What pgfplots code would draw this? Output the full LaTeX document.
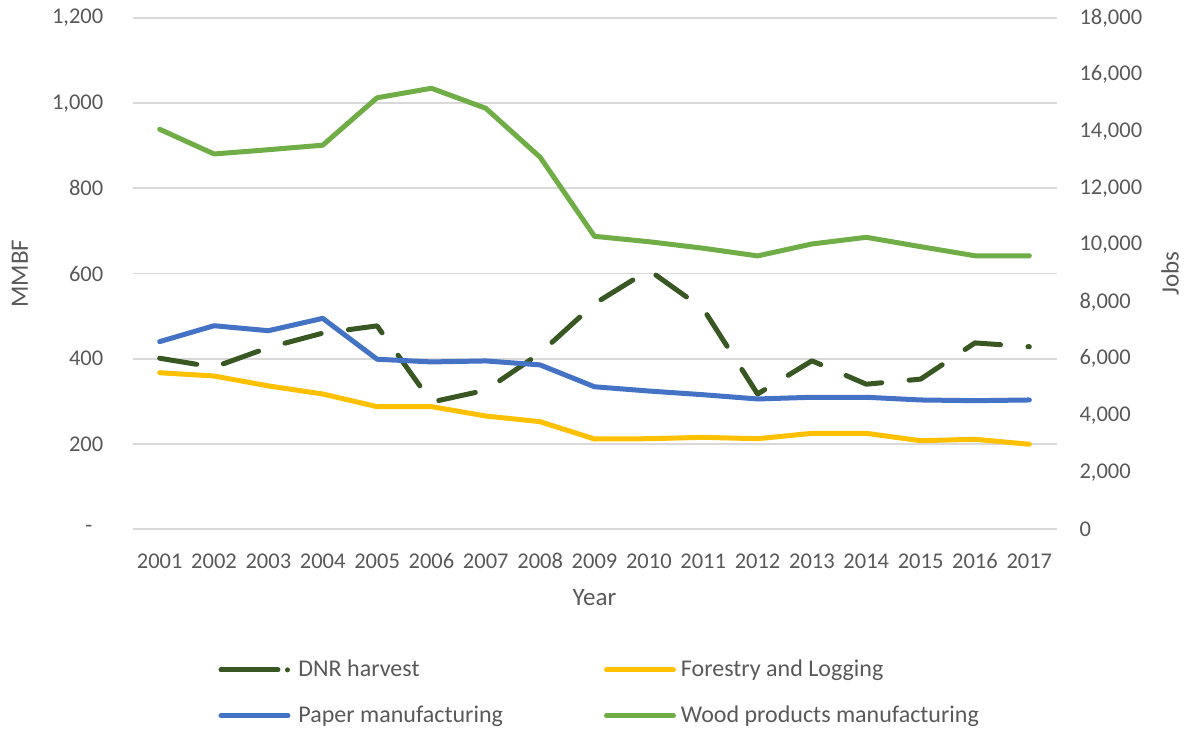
\documentclass[border=0pt]{standalone}
\usepackage{fontspec}
\setmainfont{Carlito}
\usepackage{pgfplots}
\pgfplotsset{compat=1.18}

\definecolor{txt}{HTML}{595959}
\definecolor{gridc}{HTML}{D9D9D9}
\definecolor{dnr}{HTML}{385723}
\definecolor{forest}{HTML}{FFC000}
\definecolor{paper}{HTML}{4472C4}
\definecolor{wood}{HTML}{70AD47}

\newcommand\tickfont{\fontsize{9bp}{11bp}\selectfont}
\newcommand\labfont{\fontsize{10bp}{12bp}\selectfont}
\newcommand\legfont{\fontsize{9.6bp}{11.5bp}\selectfont}

\pgfplotsset{
  common/.style={
    at={(53bp,80.4bp)}, anchor=south west,
    scale only axis, width=369.6bp, height=204.4bp,
    xmin=0.5, xmax=17.5,
    major tick length=0pt,
    scaled y ticks=false,
    axis line style={draw=none},
    tick label style={font=\tickfont, text=txt},
  },
  serie/.style={line width=2bp, line join=round, line cap=round, #1},
}

\begin{document}
\begin{tikzpicture}
\useasboundingbox (0,0) rectangle (475.6bp,292bp);

% left axis: DNR harvest volume in MMBF
\begin{axis}[common,
  ymin=0, ymax=1200,
  ytick={0,200,...,1200},
  yticklabels={{-\kern4.4bp},200,400,600,800,{1,000},{1,200}},
  yticklabel style={anchor=east, inner sep=0pt, xshift=-11.5bp},
  xtick={1,...,17},
  xticklabels={2001,2002,2003,2004,2005,2006,2007,2008,2009,2010,2011,2012,2013,2014,2015,2016,2017},
  xticklabel style={anchor=center, inner sep=0pt, yshift=-12.8bp},
  ymajorgrids, grid style={color=gridc, line width=0.75bp},
  xlabel={Year}, ylabel={MMBF},
  every axis x label/.style={at={(axis description cs:0.5,-0.135)}, anchor=center,
    font=\labfont, text=txt},
  every axis y label/.style={at={(axis description cs:-0.1218,0.5)}, anchor=center,
    rotate=90, font=\labfont, text=txt},
]
\addplot[serie={dnr, dash pattern=on 15bp off 11bp}] coordinates {
  (1,401) (2,380) (3,426) (4,460) (5,477) (6,298) (7,326) (8,413) (9,529)
  (10,608) (11,517) (12,317) (13,395) (14,340) (15,352) (16,437) (17,428)
};
\end{axis}

% right axis: employment
\begin{axis}[common,
  ymin=0, ymax=18000,
  axis x line=none,
  axis y line*=right,
  ytick={0,2000,...,18000},
  yticklabels={0,{2,000},{4,000},{6,000},{8,000},{10,000},{12,000},{14,000},{16,000},{18,000}},
  yticklabel style={anchor=west, inner sep=0pt, xshift=9bp},
  ylabel={Jobs},
  every axis y label/.style={at={(axis description cs:1.1228,0.5)}, anchor=center,
    rotate=90, font=\labfont, text=txt},
  legend columns=2,
  legend cell align=left,
  legend style={at={(axis description cs:0.0925,-0.245)}, anchor=north west,
    draw=none, fill=none, font=\legfont, text=txt, inner sep=0pt,
    row sep=6.2bp,
    /tikz/every even column/.append style={column sep=38.4bp}},
  legend image code/.code={\draw[#1] (1bp,0bp) -- (27.8bp,0bp);},
]
\addlegendimage{line width=2bp, line cap=round, dnr,
  dash pattern=on 22.8bp off 3.8bp on 0bp off 20bp,
  legend image code/.code={\draw[##1] (1bp,0bp) -- (29bp,0bp);}}
\addlegendentry{DNR harvest}
\addplot[serie=forest] coordinates {
  (1,5505) (2,5390) (3,5040) (4,4755) (5,4310) (6,4310) (7,3980) (8,3780) (9,3170)
  (10,3180) (11,3230) (12,3180) (13,3370) (14,3370) (15,3110) (16,3160) (17,2985)
};
\addlegendentry{Forestry and Logging}
\addplot[serie=paper] coordinates {
  (1,6600) (2,7160) (3,6985) (4,7420) (5,5980) (6,5885) (7,5920) (8,5780) (9,5010)
  (10,4860) (11,4730) (12,4580) (13,4640) (14,4640) (15,4545) (16,4520) (17,4545)
};
\addlegendentry{Paper manufacturing}
\addplot[serie=wood] coordinates {
  (1,14080) (2,13210) (3,13360) (4,13520) (5,15190) (6,15525) (7,14820) (8,13095) (9,10310)
  (10,10120) (11,9890) (12,9620) (13,10040) (14,10275) (15,9945) (16,9625) (17,9625)
};
\addlegendentry{Wood products manufacturing}
\end{axis}
\end{tikzpicture}
\end{document}
